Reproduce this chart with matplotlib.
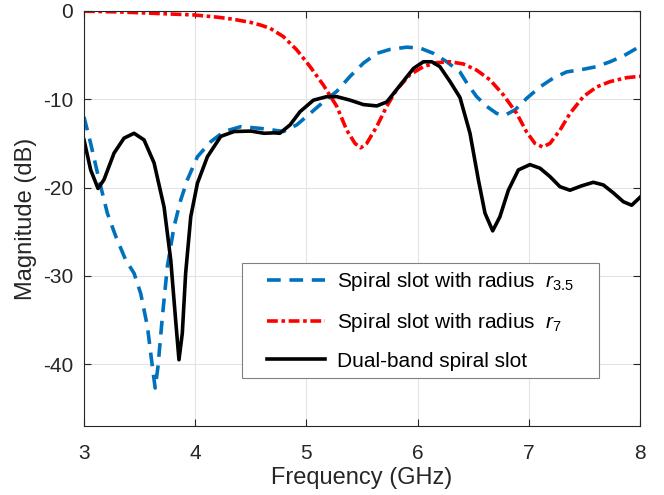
import matplotlib
matplotlib.use("Agg")
import matplotlib.pyplot as plt
from matplotlib.path import Path

# frequency (GHz) / magnitude (dB)
f_dual = [3.0, 3.06, 3.126, 3.18, 3.27, 3.36, 3.45, 3.54, 3.63, 3.72, 3.78, 3.824, 3.854, 3.884,
          3.914, 3.96, 4.02, 4.11, 4.23, 4.35, 4.5, 4.62, 4.71, 4.76, 4.853, 4.943, 5.063, 5.183,
          5.273, 5.393, 5.513, 5.633, 5.723, 5.843, 5.963, 6.052, 6.127, 6.2, 6.292, 6.381, 6.471,
          6.546, 6.606, 6.675, 6.74, 6.816, 6.906, 7.01, 7.1, 7.19, 7.28, 7.37, 7.475, 7.58, 7.67,
          7.76, 7.85, 7.925, 8.0]
s_dual = [-14.6, -18.0, -20.1, -19.1, -16.1, -14.4, -13.85, -14.6, -17.2, -22.2, -28.2, -35.0,
          -39.5, -36.5, -29.7, -23.3, -19.5, -16.5, -14.2, -13.65, -13.6, -13.85, -13.8, -13.85,
          -12.9, -11.4, -10.1, -9.7, -9.7, -10.1, -10.6, -10.75, -10.3, -8.4, -6.5, -5.75, -5.75,
          -6.3, -8.0, -9.8, -13.85, -19.1, -22.9, -24.9, -23.3, -20.3, -18.0, -17.4, -17.8, -18.75,
          -19.9, -20.3, -19.8, -19.4, -19.7, -20.6, -21.6, -22.0, -21.1]

f_r35 = [3.0, 3.06, 3.135, 3.21, 3.285, 3.375, 3.45, 3.51, 3.57, 3.615, 3.64, 3.665, 3.705, 3.75,
         3.81, 3.87, 3.93, 4.02, 4.14, 4.26, 4.41, 4.59, 4.71, 4.793, 4.913, 5.033, 5.153, 5.273,
         5.393, 5.513, 5.633, 5.752, 5.902, 6.022, 6.142, 6.262, 6.38, 6.45, 6.531, 6.621, 6.711,
         6.786, 6.876, 6.98, 7.1, 7.22, 7.34, 7.49, 7.61, 7.73, 7.85, 8.0]
s_r35 = [-12.0, -15.0, -19.1, -22.9, -25.5, -28.2, -29.7, -32.0, -35.7, -40.3, -42.7, -40.3, -34.6,
         -28.9, -24.4, -21.4, -19.1, -16.5, -14.8, -13.65, -13.1, -13.3, -13.5, -13.65, -12.9,
         -11.6, -10.3, -9.1, -7.4, -5.9, -4.8, -4.35, -4.1, -4.2, -4.8, -5.75, -6.9, -8.3, -9.7,
         -10.8, -11.6, -11.8, -11.2, -9.9, -8.6, -7.6, -6.9, -6.6, -6.3, -5.75, -5.1, -4.0]

f_r7 = [3.0, 3.3, 3.6, 3.99, 4.2, 4.35, 4.5, 4.59, 4.673, 4.793, 4.913, 5.033, 5.153, 5.273, 5.363,
        5.437, 5.488, 5.542, 5.632, 5.722, 5.812, 5.932, 6.052, 6.172, 6.292, 6.411, 6.531, 6.651,
        6.771, 6.891, 6.98, 7.055, 7.124, 7.19, 7.28, 7.37, 7.49, 7.61, 7.73, 7.88, 8.0]
s_r7 = [-0.02, -0.1, -0.25, -0.45, -0.7, -0.95, -1.3, -1.6, -1.96, -2.9, -4.4, -6.3, -8.4, -10.8,
        -13.5, -15.0, -15.5, -15.0, -13.1, -10.8, -8.9, -7.2, -6.3, -5.85, -5.75, -6.0, -6.7,
        -7.8, -9.5, -11.6, -13.7, -15.0, -15.4, -15.0, -13.5, -11.6, -9.7, -8.6, -8.0, -7.55, -7.4]

x_ticks = [3, 4, 5, 6, 7, 8]
y_ticks = [-40, -30, -20, -10, 0]

plt.rcParams['font.family'] = ['Liberation Sans', 'DejaVu Sans']
plt.rcParams['axes.unicode_minus'] = False
plt.rcParams['mathtext.fontset'] = 'custom'
plt.rcParams['mathtext.it'] = 'Liberation Sans:italic'
plt.rcParams['mathtext.rm'] = 'Liberation Sans'


def wide_box(x0, y0, width, height, mutation_size):
    # legend frame with extra room left and right only (MATLAB style)
    dx = 17
    return Path([(x0 - dx, y0), (x0 + width + dx, y0), (x0 + width + dx, y0 + height),
                 (x0 - dx, y0 + height), (x0 - dx, y0)], closed=True)


fig = plt.figure(figsize=(6.64, 4.95), dpi=100)
ax = fig.add_axes([0.1265, 0.1394, 0.8374, 0.8384])

ax.plot(f_r35, s_r35, color='#0072BD', lw=2.6, ls=(0, (3.8, 2.4)),
        label=r'Spiral slot with radius  $\mathit{r}_{\mathit{3.5}}$')
ax.plot(f_r7, s_r7, color='#FF0000', lw=2.6, ls=(0, (3.0, 1.0, 1.0, 1.0)),
        label=r'Spiral slot with radius  $\mathit{r}_{\mathit{7}}$')
ax.plot(f_dual, s_dual, color='black', lw=2.6, label='Dual-band spiral slot')

ax.set_xlim(3, 8)
ax.set_ylim(-47, 0)
ax.set_xticks(x_ticks)
ax.set_yticks(y_ticks)
ax.grid(True, color='#e3e3e3', lw=0.8)
ax.set_axisbelow(True)
ax.tick_params(direction='in', top=True, right=True, length=5, labelsize=15, colors='#262626')
ax.tick_params(axis='x', pad=13)
ax.tick_params(axis='y', pad=8)
for sp in ax.spines.values():
    sp.set_color('#262626')
    sp.set_linewidth(0.8)

ax.set_xlabel('Frequency (GHz)', fontsize=17, color='#262626', labelpad=3)
ax.set_ylabel('Magnitude (dB)', fontsize=17, color='#262626')

leg = ax.legend(loc='lower right', bbox_to_anchor=(0.896, 0.1157), borderaxespad=0, fontsize=15,
                handlelength=2.8, borderpad=0.35, labelspacing=0.85, handletextpad=0.6,
                fancybox=False, framealpha=1)
leg.get_frame().set_boxstyle(wide_box)
leg.get_frame().set_edgecolor('#808080')
leg.get_frame().set_linewidth(0.8)

fig.savefig('out.png', dpi=100)
